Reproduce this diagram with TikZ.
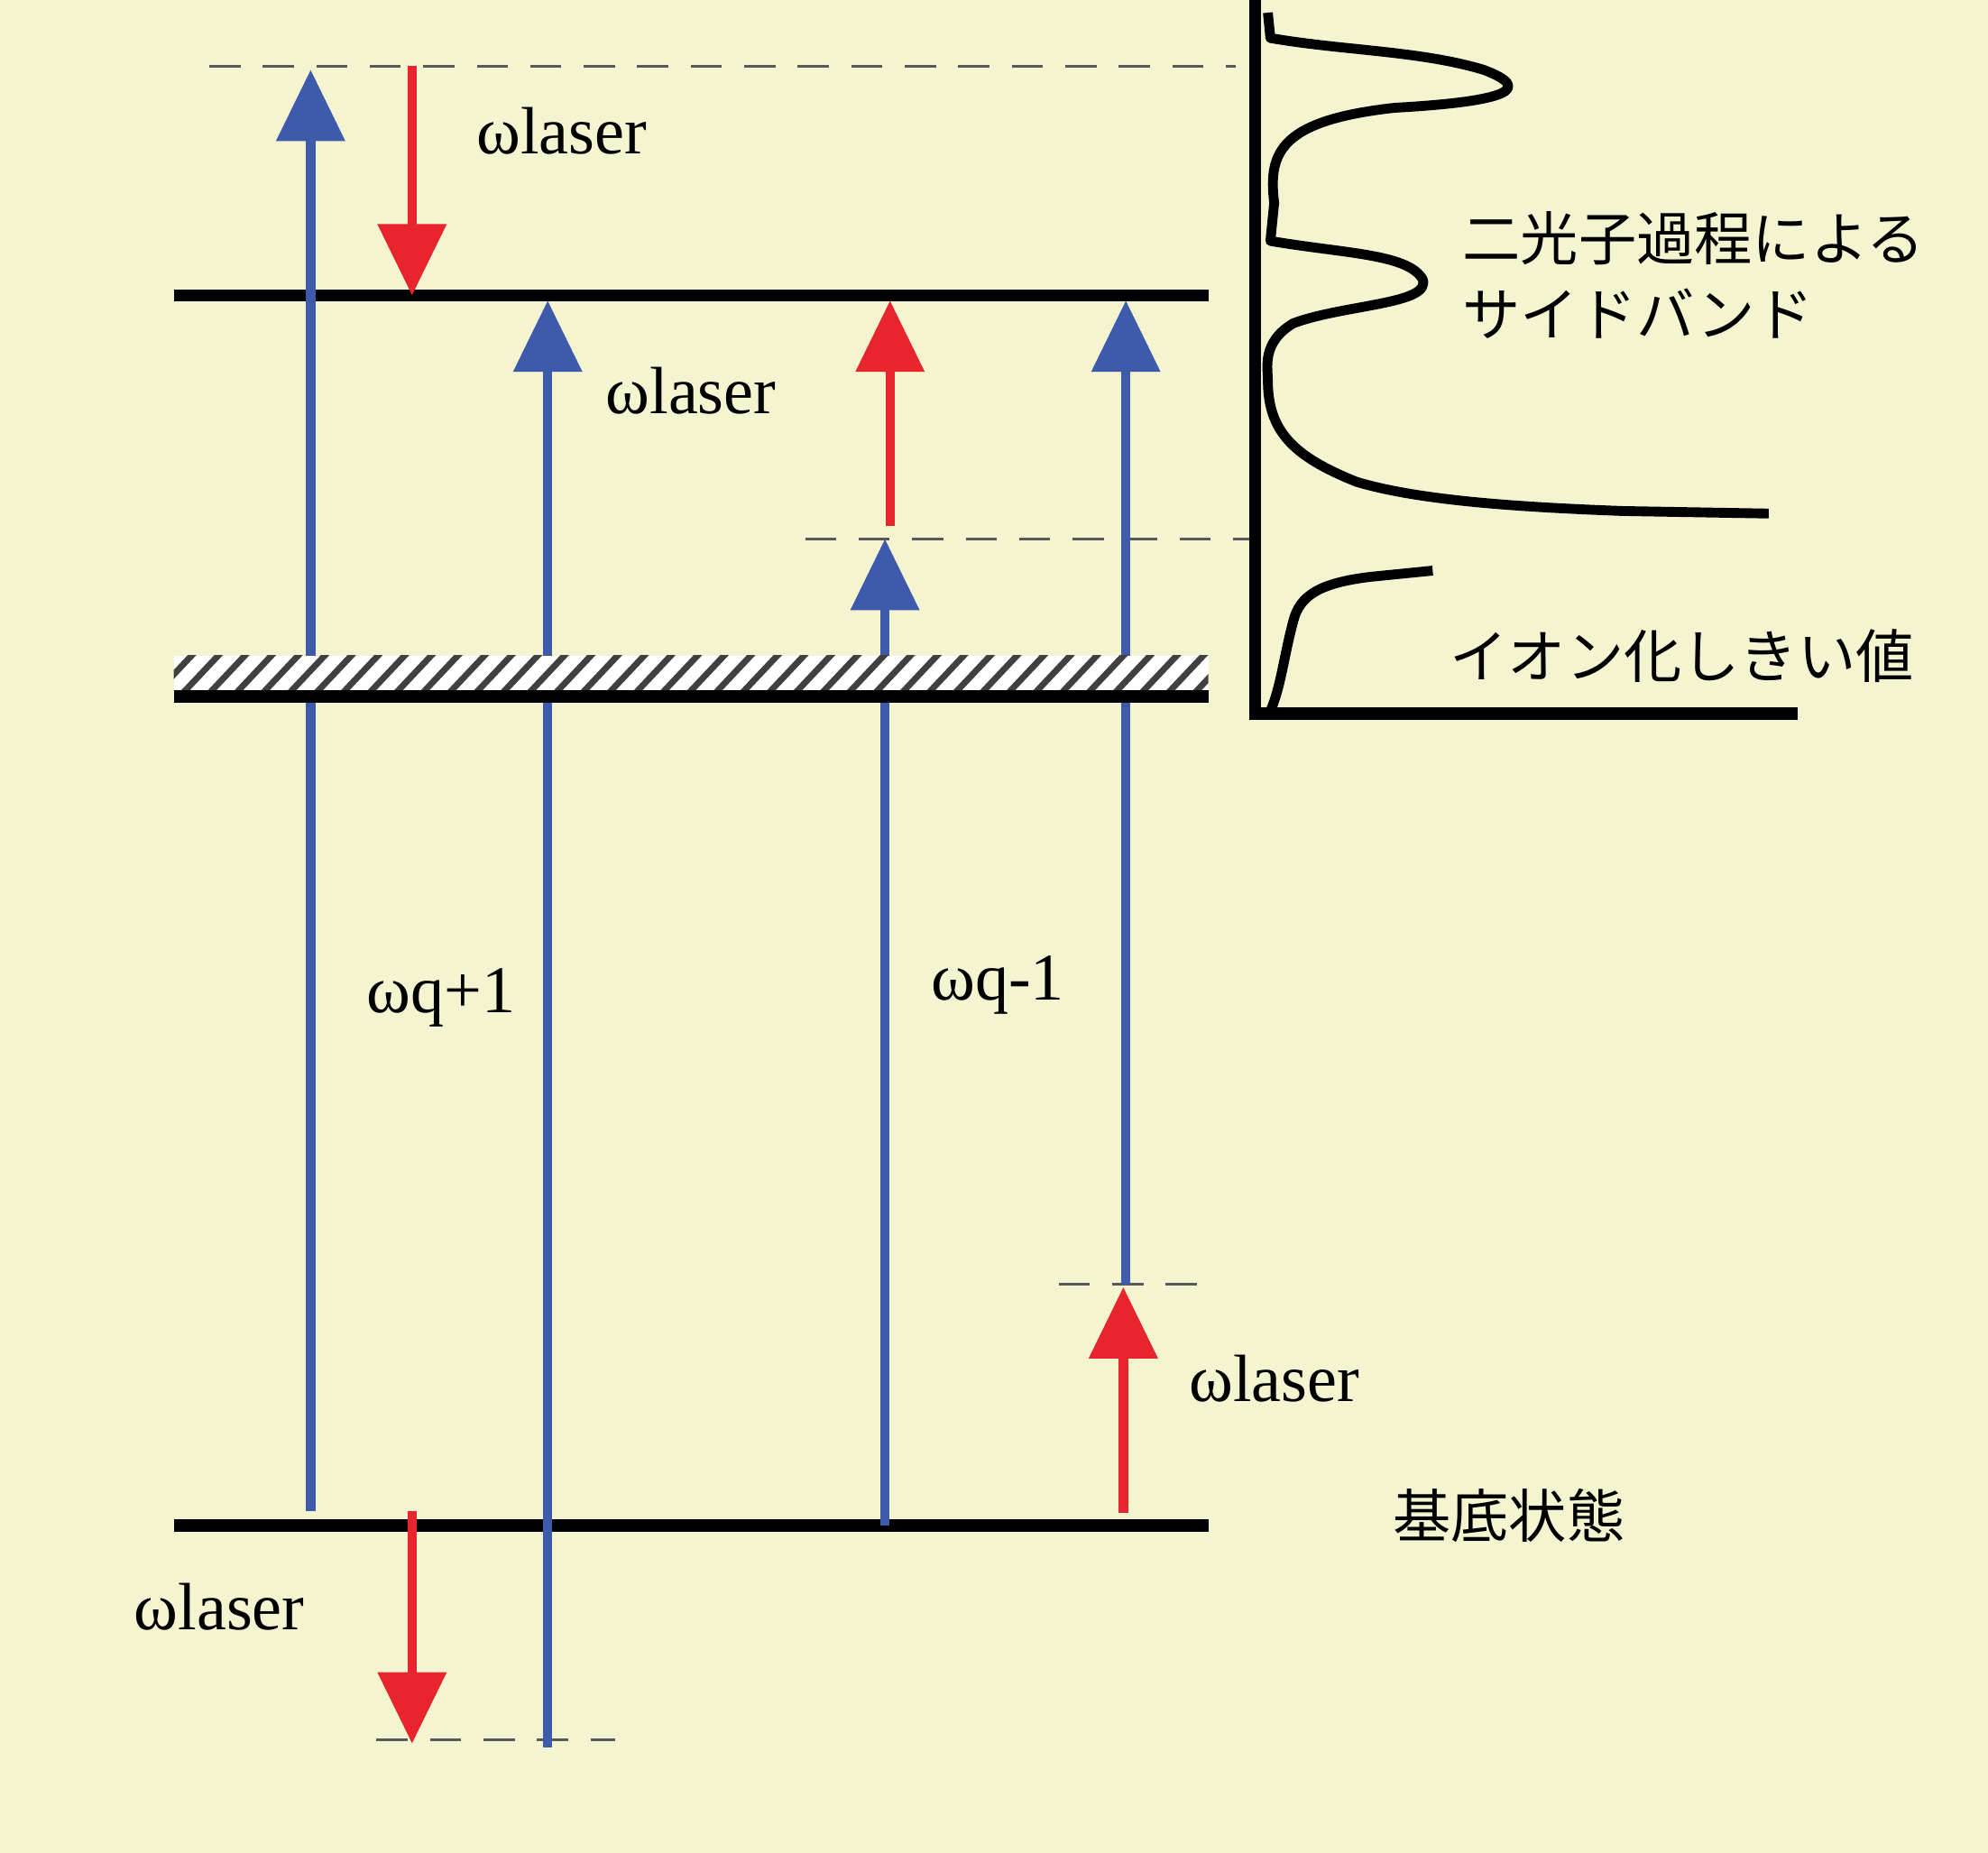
\documentclass[tikz,border=0pt]{standalone}
\usepackage{fontspec}
\setmainfont{Liberation Serif}
\newfontfamily\jpfont{Noto Sans CJK JP}
\usetikzlibrary{arrows.meta}
\definecolor{bgyellow}{RGB}{245,244,208}
\definecolor{upblue}{RGB}{62,90,170}
\definecolor{upred}{RGB}{232,36,44}
\tikzstyle{level} = [draw, line width=2.8pt]
\tikzstyle{guide} = [draw, gray!70!black, dashed, dash pattern=on 7pt off 5pt, line width=0.6pt]
\tikzstyle{bluearrow} = [draw, upblue, line width=2.1pt, -{Triangle[width=15pt,length=16pt]}]
\tikzstyle{redarrow} = [draw, upred, line width=2.1pt, -{Triangle[width=15pt,length=16pt]}]
\tikzstyle{omega} = [font=\fontsize{15}{15}\selectfont, inner sep=0pt]
\tikzstyle{jp} = [font=\jpfont\fontsize{13}{17}\selectfont, inner sep=0pt, align=left]

\begin{document}
\begin{tikzpicture}[x=0.01cm, y=-0.01cm]

\fill [bgyellow] (0, 0) rectangle (1568, 1461);
\useasboundingbox (0, 0) rectangle (1568, 1461);

% levels
\path [level] (137, 233) -- (953, 233);
\path [level] (137, 1203) -- (953, 1203);

% dashed guides
\coordinate (topL) at (165, 52);
\coordinate (topR) at (975, 52);
\coordinate (thrL) at (635, 425);
\coordinate (thrR) at (985, 425);
\coordinate (midL) at (835, 1013);
\coordinate (midR) at (960, 1013);
\coordinate (lowL) at (297, 1372);
\coordinate (lowR) at (485, 1372);
\path [guide] (topL) -- (topR);
\path [guide] (thrL) -- (thrR);
\path [guide] (midL) -- (midR);
\path [guide] (lowL) -- (lowR);

% transitions
\coordinate (a1s) at (245, 1192); \coordinate (a1e) at (245, 55);
\coordinate (a2s) at (432, 1378); \coordinate (a2e) at (432, 237);
\coordinate (a3s) at (698, 1203); \coordinate (a3e) at (698, 425);
\coordinate (a4s) at (888, 1013); \coordinate (a4e) at (888, 237);
\path [bluearrow] (a1s) -- (a1e);
\path [bluearrow] (a2s) -- (a2e);
\path [bluearrow] (a3s) -- (a3e);
\path [bluearrow] (a4s) -- (a4e);

\coordinate (r1s) at (325, 52);   \coordinate (r1e) at (325, 233);
\coordinate (r2s) at (702, 415);  \coordinate (r2e) at (702, 237);
\coordinate (r3s) at (886, 1193); \coordinate (r3e) at (886, 1015);
\coordinate (r4s) at (325, 1192); \coordinate (r4e) at (325, 1375);
\path [redarrow] (r1s) -- (r1e);
\path [redarrow] (r2s) -- (r2e);
\path [redarrow] (r3s) -- (r3e);
\path [redarrow] (r4s) -- (r4e);

% ionisation band
\fill [white] (137, 517) rectangle (953, 548);
\begin{scope}
\clip (137, 517) rectangle (953, 548);
\foreach \x in {120, 141, ..., 960}
  \draw [black!75, line width=1.4pt] (\x, 550) -- (\x + 33, 515);
\end{scope}
\path [level] (137, 549) -- (953, 549);

% labels
\node [omega] at (443, 103) (l1) {ωlaser};
\node [omega] at (545, 308) (l2) {ωlaser};
\node [omega] at (1005, 1087) (l3) {ωlaser};
\node [omega] at (173, 1267) (l4) {ωlaser};
\node [omega] at (348, 787) (q1) {ωq+1};
\node [omega] at (787, 777) (q2) {ωq-1};

\node [jp, anchor=west] at (1153, 217) (side) {二光子過程による\\サイドバンド};
\node [jp, anchor=west] at (1143, 517) (ion) {イオン化しきい値};
\node [jp, anchor=west] at (1098, 1195) (ground) {基底状態};

% spectrum
\draw [line width=2.8pt] (990, 0) -- (990, 563) -- (1418, 563);
\draw [line width=2.2pt, line join=round] (1000, 10) -- (1002, 30)
  .. controls (1060, 40) and (1120, 40) .. (1170, 55)
  .. controls (1210, 70) and (1190, 80) .. (1100, 85)
  .. controls (1010, 95) and (1000, 120) .. (1005, 160)
  -- (1002, 190)
  .. controls (1060, 200) and (1110, 200) .. (1122, 220)
  .. controls (1130, 240) and (1060, 240) .. (1020, 255)
  .. controls (995, 270) and (1000, 290) .. (1000, 300)
  .. controls (1000, 340) and (1020, 360) .. (1070, 380)
  .. controls (1120, 395) and (1200, 400) .. (1280, 403)
  -- (1395, 405);
\draw [line width=2.2pt, line join=round] (1130, 450) -- (1080, 455)
  .. controls (1040, 460) and (1025, 470) .. (1020, 490)
  .. controls (1012, 520) and (1010, 545) .. (1000, 565);

\end{tikzpicture}
\end{document}
